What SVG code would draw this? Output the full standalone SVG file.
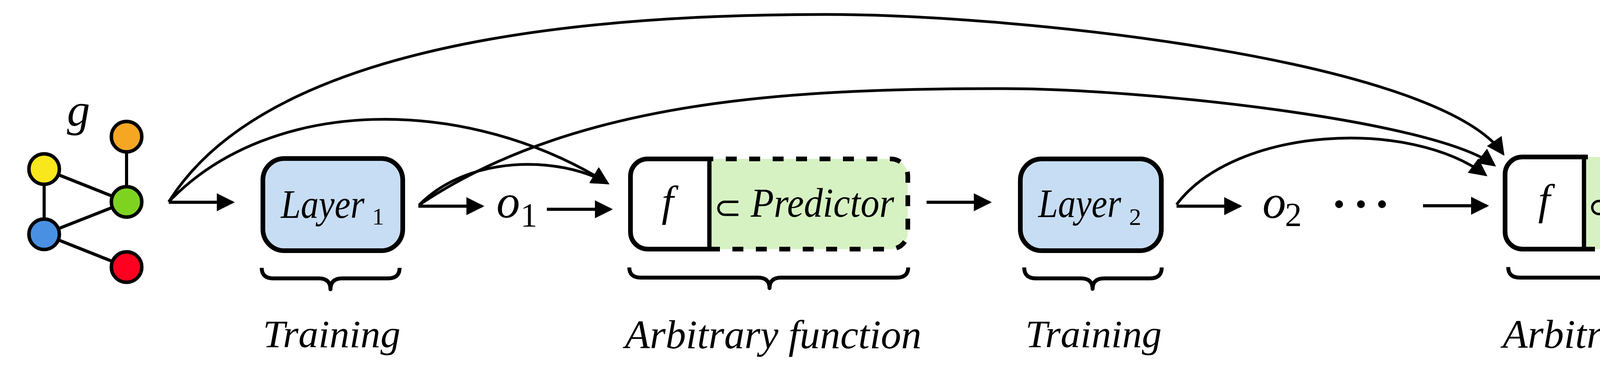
<svg xmlns="http://www.w3.org/2000/svg" width="5543" height="963" viewBox="0 0 5543 963">
<defs>
<style>
.box{stroke:#000;stroke-width:12}
.conn{fill:none;stroke:#000;stroke-width:8}
.curve{fill:none;stroke:#000;stroke-width:7}
.brace{fill:none;stroke:#000;stroke-width:10;stroke-linejoin:round}
.edge{stroke:#000;stroke-width:8}
.node{stroke:#000;stroke-width:9}
.it{font-family:"Liberation Serif","Times New Roman",serif;font-style:italic;fill:#000}
.rm{font-family:"Liberation Serif","Times New Roman",serif;fill:#000}
.sym{font-family:"DejaVu Sans",sans-serif;fill:#000}
.dash{fill:none;stroke:#000;stroke-width:12;stroke-dasharray:28 32;stroke-dashoffset:18}
</style>
<marker id="ah" markerUnits="userSpaceOnUse" markerWidth="48" markerHeight="46" refX="40" refY="23" orient="auto" viewBox="0 0 48 46">
<path d="M0,0 L46,23 L0,46 Z" fill="#000"/>
</marker>
</defs>
<rect width="5543" height="963" fill="#fff"/>

<g id="graph-input">
<line class="edge" x1="113" y1="433" x2="113" y2="600"/>
<line class="edge" x1="113" y1="433" x2="324" y2="517"/>
<line class="edge" x1="113" y1="600" x2="324" y2="517"/>
<line class="edge" x1="324" y1="350" x2="324" y2="517"/>
<line class="edge" x1="113" y1="600" x2="324" y2="684"/>
<circle class="node" cx="113" cy="433" r="39" fill="#f8e71c"/>
<circle class="node" cx="324" cy="350" r="39" fill="#f5a623"/>
<circle class="node" cx="324" cy="517" r="39" fill="#7ed321"/>
<circle class="node" cx="113" cy="600" r="39" fill="#4a90e2"/>
<circle class="node" cx="324" cy="684" r="39" fill="#ff0020"/>
<text class="it" x="201" y="322" font-size="118" text-anchor="middle">g</text>
</g>

<g id="layer1">
<rect class="box" x="673" y="406" width="358" height="236" rx="55" fill="#c7ddf4"/>
<text class="it" x="719" y="558" font-size="103" textLength="214" lengthAdjust="spacingAndGlyphs">Layer</text>
<text class="rm" x="968" y="575" font-size="62" text-anchor="middle">1</text>
</g>

<g id="o1">
<text class="it" x="1301" y="557" font-size="120" text-anchor="middle">o</text>
<text class="rm" x="1354" y="580" font-size="86" text-anchor="middle">1</text>
</g>

<g id="f1">
<path d="M1816,407 H2280 A44,44 0 0 1 2324,451 V594 A44,44 0 0 1 2280,638 H1816 Z" fill="#d7f2c2"/>
<path class="dash" d="M1816,407 H2280 A44,44 0 0 1 2324,451 V594 A44,44 0 0 1 2280,638 H1816"/>
<path class="box" d="M1816,407 H1658 A44,44 0 0 0 1614,451 V594 A44,44 0 0 0 1658,638 H1816" fill="#fff"/>
<line x1="1816" y1="401" x2="1816" y2="644" stroke="#000" stroke-width="11"/>
<text class="it" x="1709" y="553" font-size="110" text-anchor="middle">f</text>
<text class="sym" x="1863" y="560" font-size="85" text-anchor="middle">⊂</text>
<text class="it" x="1922" y="555" font-size="105" textLength="367" lengthAdjust="spacingAndGlyphs">Predictor</text>
</g>

<g id="layer2">
<rect class="box" x="2612" y="407" width="361" height="235" rx="55" fill="#c7ddf4"/>
<text class="it" x="2658" y="556" font-size="103" textLength="212" lengthAdjust="spacingAndGlyphs">Layer</text>
<text class="rm" x="2906" y="576" font-size="62" text-anchor="middle">2</text>
</g>

<g id="o2">
<text class="it" x="3262" y="558" font-size="120" text-anchor="middle">o</text>
<text class="rm" x="3311" y="579" font-size="86" text-anchor="middle">2</text>
</g>

<g id="ellipsis">
<circle cx="3428" cy="523" r="10" fill="#000"/>
<circle cx="3484" cy="523" r="10" fill="#000"/>
<circle cx="3538" cy="523" r="10" fill="#000"/>
</g>

<g id="f2">
<path d="M4055,402 H4517 A44,44 0 0 1 4561,446 V594 A44,44 0 0 1 4517,638 H4055 Z" fill="#d7f2c2"/>
<path class="dash" d="M4055,402 H4517 A44,44 0 0 1 4561,446 V594 A44,44 0 0 1 4517,638 H4055"/>
<path class="box" d="M4055,402 H3897 A44,44 0 0 0 3853,446 V594 A44,44 0 0 0 3897,638 H4055" fill="#fff"/>
<line x1="4055" y1="396" x2="4055" y2="644" stroke="#000" stroke-width="11"/>
<text class="it" x="3953" y="549" font-size="110" text-anchor="middle">f</text>
<text class="sym" x="4100" y="558" font-size="85" text-anchor="middle">⊂</text>
<text class="it" x="4161" y="553" font-size="105" textLength="367" lengthAdjust="spacingAndGlyphs">Predictor</text>
</g>

<g id="target">
<rect class="box" x="4931" y="402" width="558" height="239" rx="55" fill="#b2d9d9"/>
<text class="it" x="5084" y="553" font-size="100" textLength="256" lengthAdjust="spacingAndGlyphs">Target</text>
</g>

<g id="loss">
<text class="it" x="4665" y="305" font-size="104" textLength="164" lengthAdjust="spacingAndGlyphs">Loss</text>
<text class="it" x="4847" y="319" font-size="66" textLength="90" lengthAdjust="spacingAndGlyphs">sup</text>
</g>

<g id="braces">
<path class="brace" d="M670,686 Q670,713 700,713 L816,713 Q846,713 846,741 Q846,713 876,713 L993,713 Q1023,713 1023,686"/>
<path class="brace" d="M1611,685 Q1611,711 1641,711 L1940,711 Q1970,711 1970,738 Q1970,711 2000,711 L2295,711 Q2325,711 2325,685"/>
<path class="brace" d="M2622,685 Q2622,713 2652,713 L2767,713 Q2797,713 2797,740 Q2797,713 2827,713 L2944,713 Q2974,713 2974,685"/>
<path class="brace" d="M3861,684 Q3861,711 3891,711 L4185,711 Q4215,711 4215,739 Q4215,711 4245,711 L4543,711 Q4573,711 4573,684"/>
</g>

<g id="captions">
<text class="it" x="673" y="889" font-size="100" textLength="352" lengthAdjust="spacingAndGlyphs">Training</text>
<text class="it" x="1600" y="892" font-size="104" textLength="759" lengthAdjust="spacingAndGlyphs">Arbitrary function</text>
<text class="it" x="2625" y="889" font-size="100" textLength="349" lengthAdjust="spacingAndGlyphs">Training</text>
<text class="it" x="3847" y="891" font-size="104" textLength="762" lengthAdjust="spacingAndGlyphs">Arbitrary function</text>
</g>

<g id="connectors">
<path class="conn" marker-end="url(#ah)" d="M432,518 L595,518"/>
<path class="conn" marker-end="url(#ah)" d="M1071,528 L1234,528"/>
<path class="conn" marker-end="url(#ah)" d="M1400,536 L1563,536"/>
<path class="conn" marker-end="url(#ah)" d="M2372,518 L2533,518"/>
<path class="conn" marker-end="url(#ah)" d="M3012,528 L3174,528"/>
<path class="conn" marker-end="url(#ah)" d="M3643,527 L3806,527"/>
<path class="conn" marker-end="url(#ah)" d="M4631,514 L4878,514"/>
<path class="conn" marker-end="url(#ah)" d="M4705,514 C4775,508 4792,495 4792,450 L4792,352"/>
<path class="curve" marker-end="url(#ah)" d="M432,517 C655,160 1312,37 2112,37 C2612,37 3681,153 3848,394"/>
<path class="curve" marker-end="url(#ah)" d="M432,517 C694,243 1194,244 1555,469"/>
<path class="curve" marker-end="url(#ah)" d="M1073,525 C1199,397 1430,398 1555,469"/>
<path class="curve" marker-end="url(#ah)" d="M1073,525 C1488,245 2071,227 2571,227 C2921,227 3670,307 3825,423"/>
<path class="curve" marker-end="url(#ah)" d="M3012,524 C3162,324 3608,302 3803,448"/>
</g>
</svg>
